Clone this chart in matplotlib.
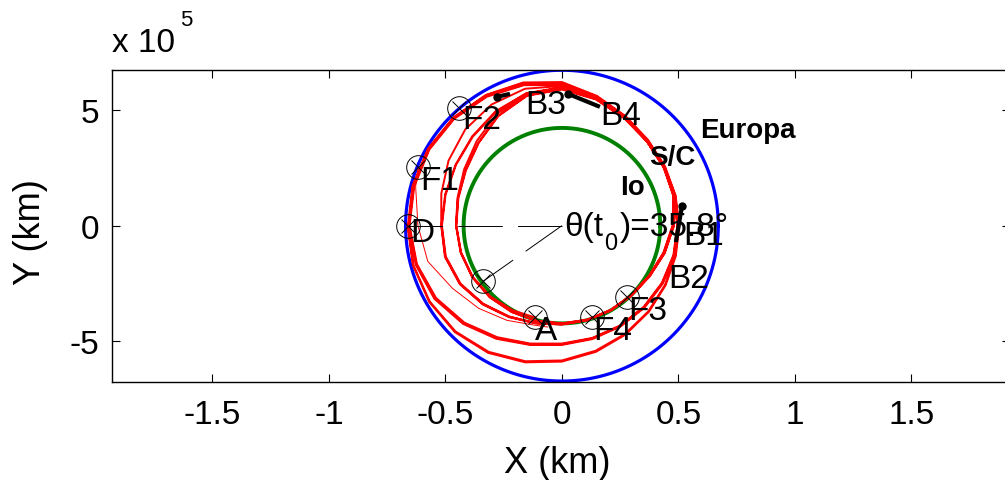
import numpy as np
import matplotlib.pyplot as plt

plt.rcParams['font.family'] = ['Liberation Sans', 'DejaVu Sans']
plt.rcParams['axes.unicode_minus'] = False
plt.rcParams['lines.scale_dashes'] = False

# orbit radii (km)
r_europa = 6.71e5
r_io = 4.22e5

# spacecraft loops: radius (1e5 km) read every 15 deg, each loop starting at 180 deg
loop_angles = [180, 195, 210, 225, 240, 255, 270, 285, 300, 315, 330, 345,
               360, 375, 390, 405, 420, 435, 450, 465, 480, 495, 510, 525]
sc_loops = [
    [6.63, 6.62, 6.58, 6.50, 6.34, 6.11, 5.87, 5.64, 5.44, 5.27, 5.14, 5.06,
     5.04, 5.05, 5.11, 5.23, 5.46, 5.80, 6.20, 6.40, 6.52, 6.60, 6.64, 6.64],
    [6.61, 6.60, 6.55, 6.46, 6.29, 6.06, 5.82, 5.59, 5.40, 5.24, 5.11, 5.03,
     5.01, 5.03, 5.09, 5.21, 5.44, 5.77, 6.16, 6.37, 6.50, 6.58, 6.62, 6.62],
    [6.58, 6.50, 6.32, 6.00, 5.64, 5.33, 5.15, 5.07, 5.03, 5.01, 5.00, 5.00,
     5.00, 5.01, 5.07, 5.19, 5.42, 5.75, 6.10, 6.31, 6.46, 6.56, 6.60, 6.59],
    [6.56, 6.47, 6.28, 5.96, 5.60, 5.30, 5.12, 5.04, 5.00, 4.98, 4.97, 4.97,
     4.97, 4.99, 5.05, 5.17, 5.40, 5.73, 6.07, 6.28, 6.43, 6.53, 6.57, 6.56],
    [6.54, 6.44, 6.24, 5.92, 5.56, 5.27, 5.09, 5.02, 4.98, 4.96, 4.95, 4.95,
     4.95, 4.97, 5.03, 5.15, 5.38, 5.71, 6.03, 6.12, 6.04, 5.87, 5.62, 5.36],
    [5.18, 5.20, 5.06, 4.81, 4.56, 4.37, 4.27, 4.23, 4.22, 4.25, 4.36, 4.57,
     4.81, 5.00, 5.08, 5.18, 5.39, 5.70, 5.98, 5.92, 5.70, 5.45, 5.27, 5.19],
    [5.17, 5.18, 5.04, 4.79, 4.54, 4.36, 4.26, 4.22, 4.21, 4.24, 4.35, 4.56,
     4.80, 4.99, 5.07, 5.17, 5.38, 5.69, 5.96, 5.90, 5.67, 5.42, 5.25, 5.17],
    [5.15, 5.16, 5.02, 4.77, 4.53, 4.35, 4.25, 4.22, 4.21, 4.24, 4.34, 4.55,
     4.79, 4.98, 5.06, 5.16, 5.37, 5.68, 5.94, 5.86, 5.58, 5.17, 4.85, 4.64],
    [4.55, 4.50, 4.45, 4.38, 4.31, 4.26, 4.23, 4.21, 4.20, 4.23, 4.33, 4.52,
     4.76, 4.96, 5.06, 5.16, 5.36, 5.66, 5.90, 5.82, 5.48, 5.07, 4.78, 4.62],
    [4.54, 4.49, 4.44, 4.37, 4.30, 4.25, 4.22, 4.20, 4.20, 4.22, 4.32, 4.51,
     4.75, 4.95, 5.05, 5.15, 5.35, 5.64, 5.88, 5.80, 5.46, 5.05, 4.76, 4.60],
]
arrival_angles = [180, 195, 210, 225, 240, 254]
arrival_r = [4.53, 4.48, 4.42, 4.33, 4.22, 4.13]

# thin arc from F1 down past A
thin_angles = [158, 165, 180, 195, 210, 225, 240, 254, 262]
thin_r = [6.66, 6.50, 6.18, 5.96, 5.42, 5.05, 4.72, 4.46, 4.42]

# thrust arcs (km), the first point carries the dot
burn_x = [[-2.79e5, -2.23e5], [0.26e5, 1.63e5], [5.15e5, 4.89e5]]
burn_y = [[5.56e5, 5.69e5], [5.69e5, 5.13e5], [0.84e5, -0.71e5]]

# event markers (km): D, F1, F2, Io(t0), A, F4, F3
mark_x = [-6.62e5, -6.17e5, -4.42e5, -3.38e5, -1.16e5, 1.27e5, 2.78e5]
mark_y = [0.0, 2.52e5, 5.07e5, -2.40e5, -3.96e5, -3.96e5, -3.09e5]

labels = ['D', 'F1', 'F2', 'B3', 'B4', 'B1', 'B2', 'F3', 'F4', 'A']
label_x = [-6.52e5, -6.09e5, -4.29e5, -1.59e5, 1.63e5, 5.19e5, 4.55e5, 2.83e5, 1.33e5, -1.16e5]
label_y = [-0.66e5, 1.58e5, 4.22e5, 4.87e5, 4.39e5, -0.79e5, -2.65e5, -4.03e5, -4.89e5, -4.89e5]

body_labels = ['Europa', 'S/C', 'Io']
body_x = [5.92e5, 3.73e5, 2.49e5]
body_y = [3.83e5, 2.66e5, 1.37e5]

fig = plt.figure(figsize=(10.05, 4.81), dpi=100)
ax = fig.add_axes([112 / 1005, 98 / 481, 898 / 1005, 312 / 481])

circ = np.radians(np.arange(0, 361, 1))
ax.plot(r_io * np.cos(circ), r_io * np.sin(circ), color=(0, 0.5, 0), lw=2.8)
ax.plot(r_europa * np.cos(circ), r_europa * np.sin(circ), color='blue', lw=2.3)

th = []
rr = []
for k, loop in enumerate(sc_loops):
    th += [a + 360 * k for a in loop_angles]
    rr += loop
th += arrival_angles
rr += arrival_r
th = np.radians(th)
rr = np.array(rr) * 1e5
ax.plot(rr * np.cos(th), rr * np.sin(th), color='red', lw=1.4)

tt = np.radians(thin_angles)
tr = np.array(thin_r) * 1e5
ax.plot(tr * np.cos(tt), tr * np.sin(tt), color='red', lw=0.7)

for bx, by in zip(burn_x, burn_y):
    ax.plot(bx, by, color='black', lw=3, solid_capstyle='butt')
    ax.plot(bx[0], by[0], marker='o', color='black', ms=5)

# reference lines from the centre to D and to Io at t0
ax.plot([0, mark_x[0]], [0, mark_y[0]], color='black', lw=0.7, dashes=(32, 11))
ax.plot([0, mark_x[3]], [0, mark_y[3]], color='black', lw=0.7, dashes=(32, 11))

ax.plot(mark_x, mark_y, 'o', mfc='none', mec='black', ms=17, mew=0.7)
ax.plot(mark_x, mark_y, 'x', color='black', ms=10, mew=0.7)

for s, x, y in zip(labels, label_x, label_y):
    ax.text(x, y, s, fontsize=24, ha='left', va='baseline')
for s, x, y in zip(body_labels, body_x, body_y):
    ax.text(x, y, s, fontsize=20, fontweight='bold', ha='left', va='baseline')

# theta(t0) annotation, subscript drawn as its own text
ax.text(0.09e5, -0.40e5, 'θ(t', fontsize=24, ha='left', va='baseline')
ax.text(1.80e5, -1.01e5, '0', fontsize=17, ha='left', va='baseline')
ax.text(2.49e5, -0.40e5, ')=35.8°', fontsize=24, ha='left', va='baseline')

ax.set_xlim(-1.931e6, 1.923e6)
ax.set_ylim(-6.75e5, 6.72e5)
ax.set_xticks([-1.5e6, -1e6, -0.5e6, 0, 0.5e6, 1e6, 1.5e6])
ax.set_xticklabels(['-1.5', '-1', '-0.5', '0', '0.5', '1', '1.5'])
ax.set_yticks([-5e5, 0, 5e5])
ax.set_yticklabels(['-5', '0', '5'])
ax.tick_params(direction='in', length=6, width=0.8, top=True, right=True, labelsize=24)
ax.tick_params(axis='x', pad=12)
ax.tick_params(axis='y', pad=9)
for sp in ax.spines.values():
    sp.set_linewidth(1.0)

fig.text(557 / 1005, 1 - 473 / 481, 'X (km)', fontsize=26, ha='center', va='baseline')
fig.text(40 / 1005, 1 - 232 / 481, 'Y (km)', fontsize=26, ha='center', va='baseline',
         rotation=90, rotation_mode='anchor')
fig.text(112 / 1005, 1 - 52 / 481, 'x 10', fontsize=24, ha='left', va='baseline')
fig.text(180 / 1005, 1 - 26 / 481, '5', fontsize=16, ha='left', va='baseline')

fig.savefig('out.png', dpi=100)
